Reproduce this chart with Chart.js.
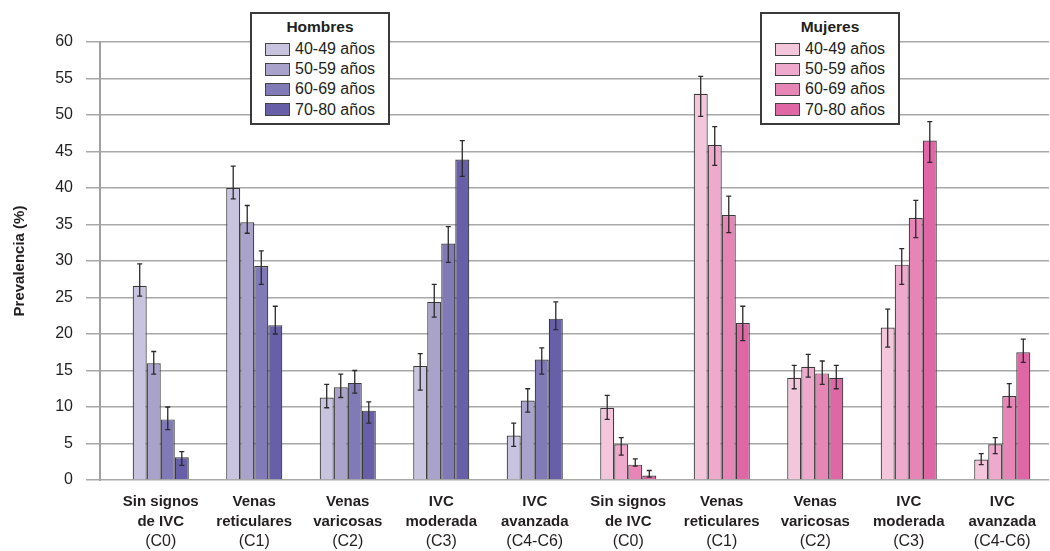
<!DOCTYPE html>
<html><head><meta charset="utf-8">
<script src="https://cdn.jsdelivr.net/npm/chart.js@4.4.0/dist/chart.umd.min.js"></script>
<style>
html,body{margin:0;padding:0;background:#fff;}
#wrap{position:relative;width:1050px;height:551px;overflow:hidden;}
canvas{position:absolute;left:0;top:0;}
.lg{position:absolute;top:12px;width:140px;height:113px;box-sizing:border-box;border:2px solid #3a3a3a;background:#fff;font-family:"Liberation Sans",Arial,sans-serif;font-size:16px;color:#231f20;}
.lg .t{position:absolute;left:0;right:0;top:3px;text-align:center;font-weight:bold;font-size:15.5px;line-height:20px;}
.lg .r{position:absolute;left:13px;height:20px;line-height:20px;white-space:nowrap;}
.lg .s{position:absolute;left:0;top:3.5px;width:25px;height:13px;box-sizing:border-box;border:1.5px solid #444;}
.lg .r span{position:absolute;left:30px;top:0;}
</style></head>
<body><div id="wrap"><canvas id="c" width="1050" height="551"></canvas>
<div class="lg" id="lgH" style="left:250px"></div>
<div class="lg" id="lgM" style="left:760px"></div></div>
<script>
// ---- Data ----
const ageGroups = ['40-49 años', '50-59 años', '60-69 años', '70-80 años'];
const legendTitles = ['Hombres', 'Mujeres'];
const catLine1 = ['Sin signos', 'Venas', 'Venas', 'IVC', 'IVC', 'Sin signos', 'Venas', 'Venas', 'IVC', 'IVC'];
const catLine2 = ['de IVC', 'reticulares', 'varicosas', 'moderada', 'avanzada', 'de IVC', 'reticulares', 'varicosas', 'moderada', 'avanzada'];
const catLine3 = ['(C0)', '(C1)', '(C2)', '(C3)', '(C4-C6)', '(C0)', '(C1)', '(C2)', '(C3)', '(C4-C6)'];
const yTicks = [0, 5, 10, 15, 20, 25, 30, 35, 40, 45, 50, 55, 60];

const val40 = [26.6, 40.0, 11.3, 15.6, 6.1, 9.9, 52.9, 14.0, 20.9, 2.8];
const val50 = [16.0, 35.3, 12.7, 24.4, 10.9, 4.9, 45.9, 15.5, 29.5, 4.9];
const val60 = [8.3, 29.3, 13.3, 32.4, 16.5, 2.1, 36.3, 14.6, 35.9, 11.5];
const val70 = [3.1, 21.2, 9.5, 43.9, 22.1, 0.6, 21.5, 14.0, 46.5, 17.5];

const lo40 = [25.2, 38.5, 9.9, 12.3, 4.6, 8.3, 49.8, 12.5, 18.2, 2.1];
const hi40 = [29.6, 43.0, 13.1, 17.3, 7.8, 11.6, 55.3, 15.7, 23.4, 3.6];
const lo50 = [14.5, 33.8, 11.3, 22.3, 9.3, 3.4, 43.1, 14.1, 26.8, 3.6];
const hi50 = [17.6, 37.6, 14.5, 26.8, 12.5, 5.8, 48.4, 17.2, 31.7, 5.8];
const lo60 = [6.9, 26.8, 11.9, 29.8, 14.5, 1.9, 33.9, 13.1, 33.2, 10.0];
const hi60 = [10.0, 31.4, 15.0, 34.7, 18.1, 2.9, 38.9, 16.3, 38.3, 13.2];
const lo70 = [2.0, 20.0, 7.8, 41.6, 20.6, 0.4, 19.1, 12.5, 43.5, 16.1];
const hi70 = [3.9, 23.8, 10.7, 46.5, 24.4, 1.3, 23.8, 15.7, 49.1, 19.3];

const menColors = ['#C8C3DE', '#A9A3CC', '#807BB7', '#6760A8'];
const womenColors = ['#F3C6DC', '#EEA9CD', '#E685B6', '#DF67A6'];

// ---- Build ----
const values = [val40, val50, val60, val70];
const errLow = [lo40, lo50, lo60, lo70];
const errHigh = [hi40, hi50, hi60, hi70];
const FONT = '"Liberation Sans", Arial, sans-serif';
const TXT = '#231f20';
const labels = catLine1.map((l, i) => [l, catLine2[i]]);

function buildLegend(id, title, colors) {
  const el = document.getElementById(id);
  let h = '<div class="t">' + title + '</div>';
  ageGroups.forEach((a, k) => {
    h += '<div class="r" style="top:' + (25 + k * 20.2) + 'px"><div class="s" style="background:' + colors[k] + '"></div><span>' + a + '</span></div>';
  });
  el.innerHTML = h;
}
buildLegend('lgH', legendTitles[0], menColors);
buildLegend('lgM', legendTitles[1], womenColors);

const errorBars = {
  id: 'errorBars',
  afterDatasetsDraw(chart) {
    const ctx = chart.ctx, ys = chart.scales.y;
    ctx.save();
    ctx.strokeStyle = '#2a2a2a';
    ctx.lineWidth = 1.3;
    chart.data.datasets.forEach((ds, k) => {
      chart.getDatasetMeta(k).data.forEach((bar, i) => {
        const x = bar.x;
        const yl = ys.getPixelForValue(errLow[k][i]);
        const yh = ys.getPixelForValue(errHigh[k][i]);
        ctx.beginPath();
        ctx.moveTo(x, yl); ctx.lineTo(x, yh);
        ctx.moveTo(x - 2.5, yl); ctx.lineTo(x + 2.5, yl);
        ctx.moveTo(x - 2.5, yh); ctx.lineTo(x + 2.5, yh);
        ctx.stroke();
      });
    });
    ctx.restore();
  }
};

new Chart(document.getElementById('c'), {
  type: 'bar',
  data: {
    labels: labels,
    datasets: values.map((v, k) => ({
      label: ageGroups[k],
      data: v,
      xAxisID: 'x',
      yAxisID: 'y',
      backgroundColor: labels.map((_, i) => i < 5 ? menColors[k] : womenColors[k]),
      borderColor: '#3a3a3a',
      borderWidth: 1.2,
      barPercentage: 1,
      categoryPercentage: 0.6
    }))
  },
  options: {
    responsive: false,
    animation: false,
    devicePixelRatio: 1,
    layout: { padding: { top: 42, right: 1, left: 0, bottom: 0 } },
    plugins: { legend: { display: false }, tooltip: { enabled: false } },
    scales: {
      x: {
        type: 'category', position: 'bottom', weight: 0, offset: true,
        grid: { display: false, drawTicks: false }, border: { display: false },
        ticks: { font: { family: FONT, size: 15, weight: 'bold', lineHeight: '20px' }, color: TXT, padding: 12, maxRotation: 0, autoSkip: false },
        afterFit(s) { s.height = 51; }
      },
      x2: {
        type: 'category', position: 'bottom', weight: 1, offset: true, labels: catLine3,
        grid: { display: false, drawTicks: false }, border: { display: false },
        ticks: { font: { family: FONT, size: 16, lineHeight: '20px' }, color: TXT, padding: 1, maxRotation: 0, autoSkip: false },
        afterFit(s) { s.height = 20; }
      },
      y: {
        type: 'linear', position: 'left', weight: 0, min: yTicks[0], max: yTicks[yTicks.length - 1],
        afterBuildTicks(s) { s.ticks = yTicks.map(v => ({ value: v })); },
        ticks: { display: false },
        grid: { color: '#a8a8a8', lineWidth: 1.5, tickLength: 28, drawTicks: true },
        border: { display: false },
        afterFit(s) { s.width = 14; }
      },
      y2: {
        type: 'linear', position: 'left', weight: 1, min: yTicks[0], max: yTicks[yTicks.length - 1],
        afterBuildTicks(s) { s.ticks = yTicks.map(v => ({ value: v })); },
        ticks: { padding: 27, font: { family: FONT, size: 16 }, color: TXT },
        grid: { display: false, drawTicks: false },
        border: { display: true, color: '#a0a0a0', width: 2 },
        title: { display: true, text: 'Prevalencia (%)', font: { family: FONT, size: 15, weight: 'bold', lineHeight: '20px' }, color: TXT, padding: { top: 10, bottom: 0 } },
        afterFit(s) { s.width = 100; }
      }
    }
  },
  plugins: [errorBars]
});
</script>
</body></html>
